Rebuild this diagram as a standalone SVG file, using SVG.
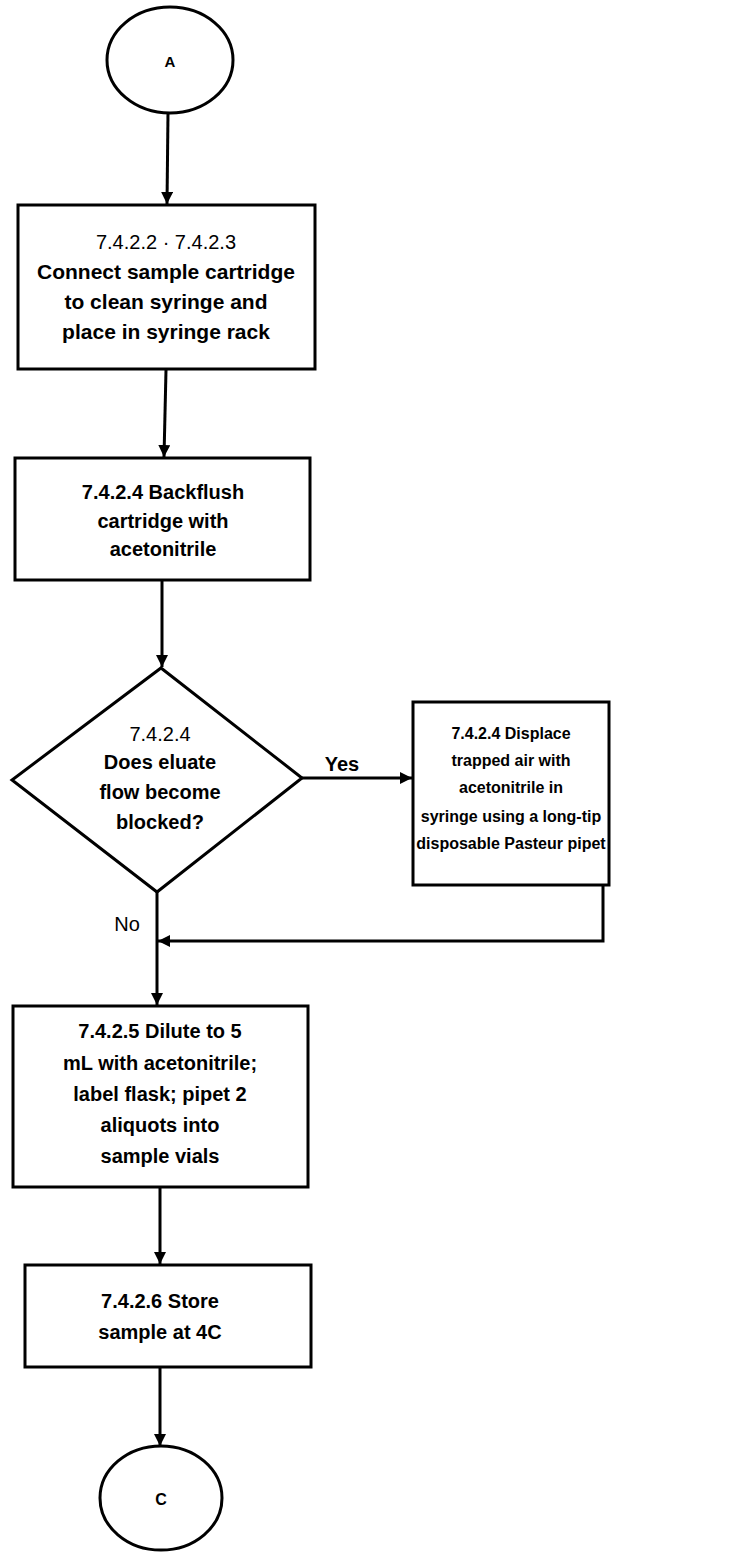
<svg xmlns="http://www.w3.org/2000/svg" width="743" height="1555" viewBox="0 0 743 1555">
<style>
.n{fill:#fff;stroke:#000;stroke-width:3}
.c{fill:none;stroke:#000;stroke-width:3}
text{font-family:"Liberation Sans",Arial,sans-serif;font-size:20px;font-weight:bold;text-anchor:middle;fill:#000}
.s{font-size:16px}
</style>
<defs>
<marker id="ah" viewBox="0 0 10 10" refX="10" refY="5" markerWidth="4" markerHeight="4" orient="auto" markerUnits="strokeWidth">
<path d="M0,0 L10,5 L0,10 z" fill="#000"/>
</marker>
</defs>
<g id="connectors">
<line class="c" x1="168" y1="113" x2="167" y2="204" marker-end="url(#ah)"/>
<line class="c" x1="166" y1="370" x2="164" y2="457" marker-end="url(#ah)"/>
<line class="c" x1="162" y1="580" x2="162" y2="667" marker-end="url(#ah)"/>
<line class="c" x1="302" y1="778" x2="412" y2="778" marker-end="url(#ah)"/>
<polyline class="c" points="603,885 603,941 158,941" marker-end="url(#ah)"/>
<line class="c" x1="157" y1="892" x2="157" y2="1005" marker-end="url(#ah)"/>
<line class="c" x1="160" y1="1188" x2="160" y2="1264" marker-end="url(#ah)"/>
<line class="c" x1="160" y1="1367" x2="160" y2="1446" marker-end="url(#ah)"/>
<text x="342" y="771">Yes</text>
<text x="127" y="931" style="font-weight:normal">No</text>
</g>
<g id="nodeA">
<ellipse class="n" cx="170" cy="60" rx="63" ry="53"/>
<text x="170" y="67" style="font-size:15px">A</text>
</g>
<g id="box1">
<rect class="n" x="18" y="205" width="297" height="164"/>
<text x="166" y="249" style="font-weight:normal">7.4.2.2 · 7.4.2.3</text>
<text x="166" y="279" style="font-size:21px">Connect sample cartridge</text>
<text x="166" y="309" style="font-size:21px">to clean syringe and</text>
<text x="166" y="339" style="font-size:21px">place in syringe rack</text>
</g>
<g id="box2">
<rect class="n" x="15" y="458" width="295" height="122"/>
<text x="163" y="499">7.4.2.4 Backflush</text>
<text x="163" y="528">cartridge with</text>
<text x="163" y="556">acetonitrile</text>
</g>
<g id="diamond">
<polygon class="n" points="161,668 302,778 157,892 12,780"/>
<text x="160" y="741" style="font-weight:normal">7.4.2.4</text>
<text x="160" y="769">Does eluate</text>
<text x="160" y="799">flow become</text>
<text x="160" y="829">blocked?</text>
</g>
<g id="box3">
<rect class="n" x="413" y="702" width="196" height="183"/>
<text class="s" x="511" y="739">7.4.2.4 Displace</text>
<text class="s" x="511" y="766">trapped air with</text>
<text class="s" x="511" y="793">acetonitrile in</text>
<text class="s" x="511" y="822">syringe using a long-tip</text>
<text class="s" x="511" y="849">disposable Pasteur pipet</text>
</g>
<g id="box4">
<rect class="n" x="13" y="1006" width="295" height="181"/>
<text x="160" y="1038">7.4.2.5 Dilute to 5</text>
<text x="160" y="1070">mL with acetonitrile;</text>
<text x="160" y="1101">label flask; pipet 2</text>
<text x="160" y="1132">aliquots into</text>
<text x="160" y="1163">sample vials</text>
</g>
<g id="box5">
<rect class="n" x="25" y="1265" width="286" height="102"/>
<text x="160" y="1308">7.4.2.6 Store</text>
<text x="160" y="1339">sample at 4C</text>
</g>
<g id="nodeC">
<ellipse class="n" cx="161" cy="1498" rx="61" ry="52"/>
<text x="161" y="1505" style="font-size:16px">C</text>
</g>
</svg>
